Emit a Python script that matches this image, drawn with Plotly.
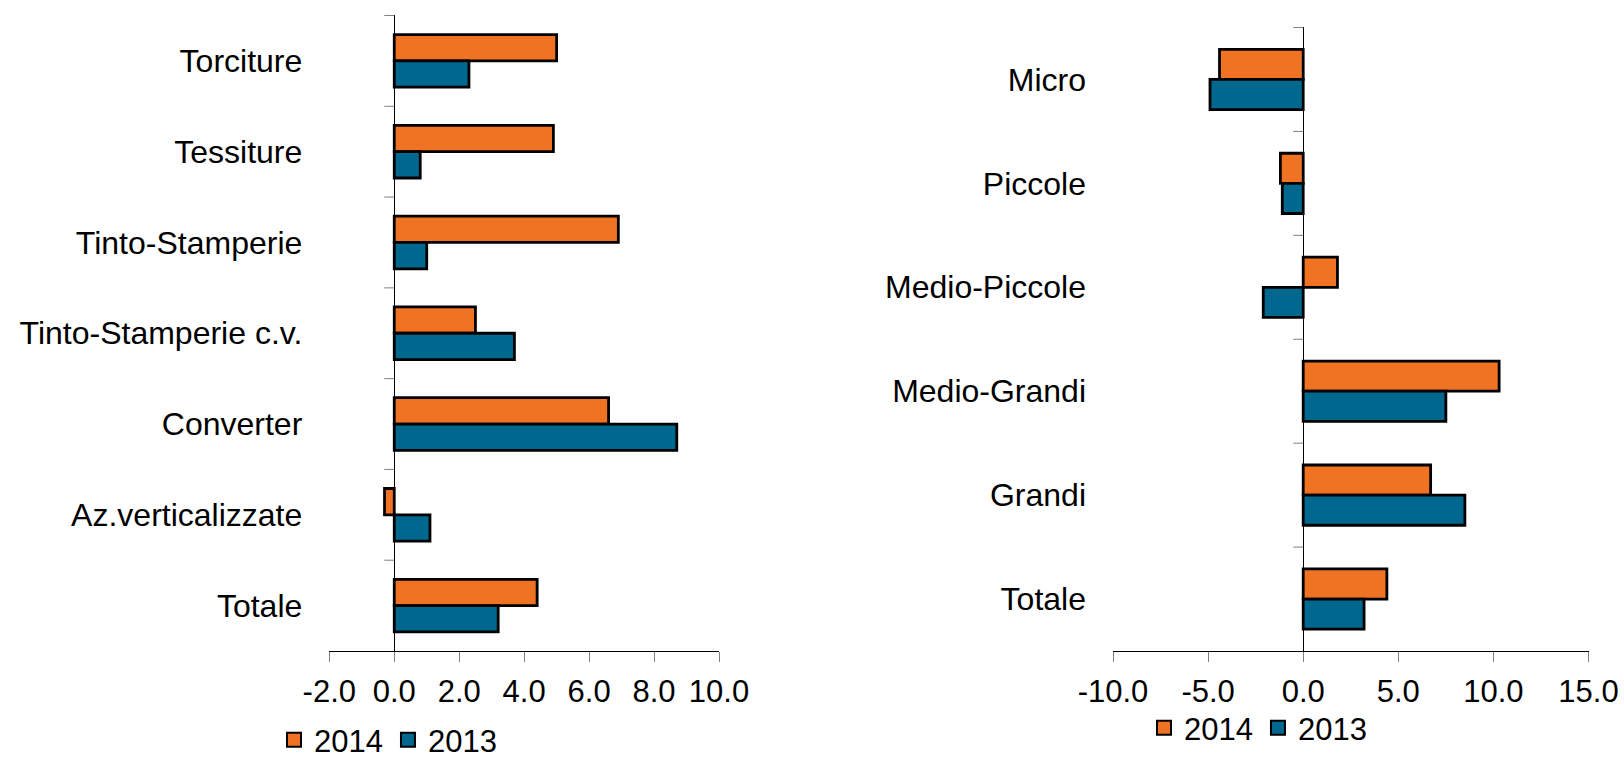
import plotly.graph_objects as go

# Variazioni percentuali per comparto (pannello sinistro)
comparti = ["Torciture", "Tessiture", "Tinto-Stamperie", "Tinto-Stamperie c.v.",
            "Converter", "Az.verticalizzate", "Totale"]
comparti_2014 = [5.0, 4.9, 6.9, 2.5, 6.6, -0.3, 4.4]
comparti_2013 = [2.3, 0.8, 1.0, 3.7, 8.7, 1.1, 3.2]

# Variazioni percentuali per classe dimensionale (pannello destro)
classi = ["Micro", "Piccole", "Medio-Piccole", "Medio-Grandi", "Grandi", "Totale"]
classi_2014 = [-4.4, -1.2, 1.8, 10.3, 6.7, 4.4]
classi_2013 = [-4.9, -1.1, -2.1, 7.5, 8.5, 3.2]

anni = ["2014", "2013"]
left_ticks = [-2, 0, 2, 4, 6, 8, 10]
right_ticks = [-10, -5, 0, 5, 10, 15]

ORANGE = "#F07323"
BLUE = "#00688F"
COLORS = {"2014": ORANGE, "2013": BLUE}
FONT = "Liberation Sans, Arial, sans-serif"
W, H = 1624, 758

fig = go.Figure()

def add_pair(cats, v14, v13, xa, ya, legend):
    for name, vals in zip(anni, (v14, v13)):
        fig.add_trace(go.Bar(y=cats, x=vals, orientation="h", name=name,
                             marker=dict(color=COLORS[name],
                                         line=dict(color="black", width=2.8)),
                             xaxis=xa, yaxis=ya, showlegend=False))
    # legend keys: square swatches with a black border
    for name in anni:
        fig.add_trace(go.Scatter(x=[None], y=[None], mode="markers", name=name,
                                 marker=dict(symbol="square", size=14, color=COLORS[name],
                                             line=dict(color="black", width=2)),
                                 xaxis=xa, yaxis=ya, legend=legend, hoverinfo="skip"))

add_pair(comparti, comparti_2014, comparti_2013, "x", "y", "legend")
add_pair(classi, classi_2014, classi_2013, "x2", "y2", "legend2")

# Category boundary ticks drawn on the vertical line at x = 0
shapes = []
for xref, yref, cats in (("x", "y", comparti), ("x2", "y2", classi)):
    for k in range(len(cats)):
        shapes.append(dict(type="line", xref=xref, yref=yref,
                           xsizemode="pixel", xanchor=0, x0=-10, x1=0,
                           y0=k - 0.5, y1=k - 0.5,
                           line=dict(color="#808080", width=1)))

def fmt(v):
    # plain hyphen for negatives, one decimal
    return f"{v:.1f}"

xcommon = dict(showgrid=False, zeroline=True, zerolinecolor="black", zerolinewidth=1.3,
               showline=True, linecolor="black", linewidth=1.3,
               ticks="outside", ticklen=10, tickcolor="#808080", tickwidth=1,
               tickfont=dict(size=31, family=FONT, color="black"),
               ticklabelstandoff=3, automargin=False, fixedrange=True)
ycommon = dict(showgrid=False, zeroline=False, showline=False, ticks="",
               autorange="reversed", type="category",
               tickfont=dict(size=32, family=FONT, color="black"),
               ticklabelstandoff=26, automargin=False, fixedrange=True)

legend_common = dict(orientation="h", xanchor="left", yanchor="middle",
                     font=dict(size=31, family=FONT, color="black"),
                     itemwidth=30, bgcolor="rgba(0,0,0,0)", traceorder="normal")

fig.update_layout(
    width=W, height=H,
    margin=dict(l=0, r=0, t=0, b=0, autoexpand=False),
    paper_bgcolor="white", plot_bgcolor="white",
    font=dict(family=FONT, color="black"),
    barmode="group", bargap=0.42, bargroupgap=0,
    xaxis=dict(domain=[329.3 / W, 719 / W], range=[-2, 10],
               tickvals=left_ticks, ticktext=[fmt(v) for v in left_ticks],
               anchor="y", **xcommon),
    yaxis=dict(domain=[1 - 651 / H, 1 - 15 / H], anchor="x", **ycommon),
    xaxis2=dict(domain=[1113 / W, 1588.5 / W], range=[-10, 15],
                tickvals=right_ticks, ticktext=[fmt(v) for v in right_ticks],
                anchor="y2", **xcommon),
    yaxis2=dict(domain=[1 - 651 / H, 1 - 27 / H], anchor="x2", **ycommon),
    legend=dict(x=274 / W, y=1 - 740 / H, **legend_common),
    legend2=dict(x=1144 / W, y=1 - 728 / H, **legend_common),
    shapes=shapes,
)

fig.write_html("out.html")
